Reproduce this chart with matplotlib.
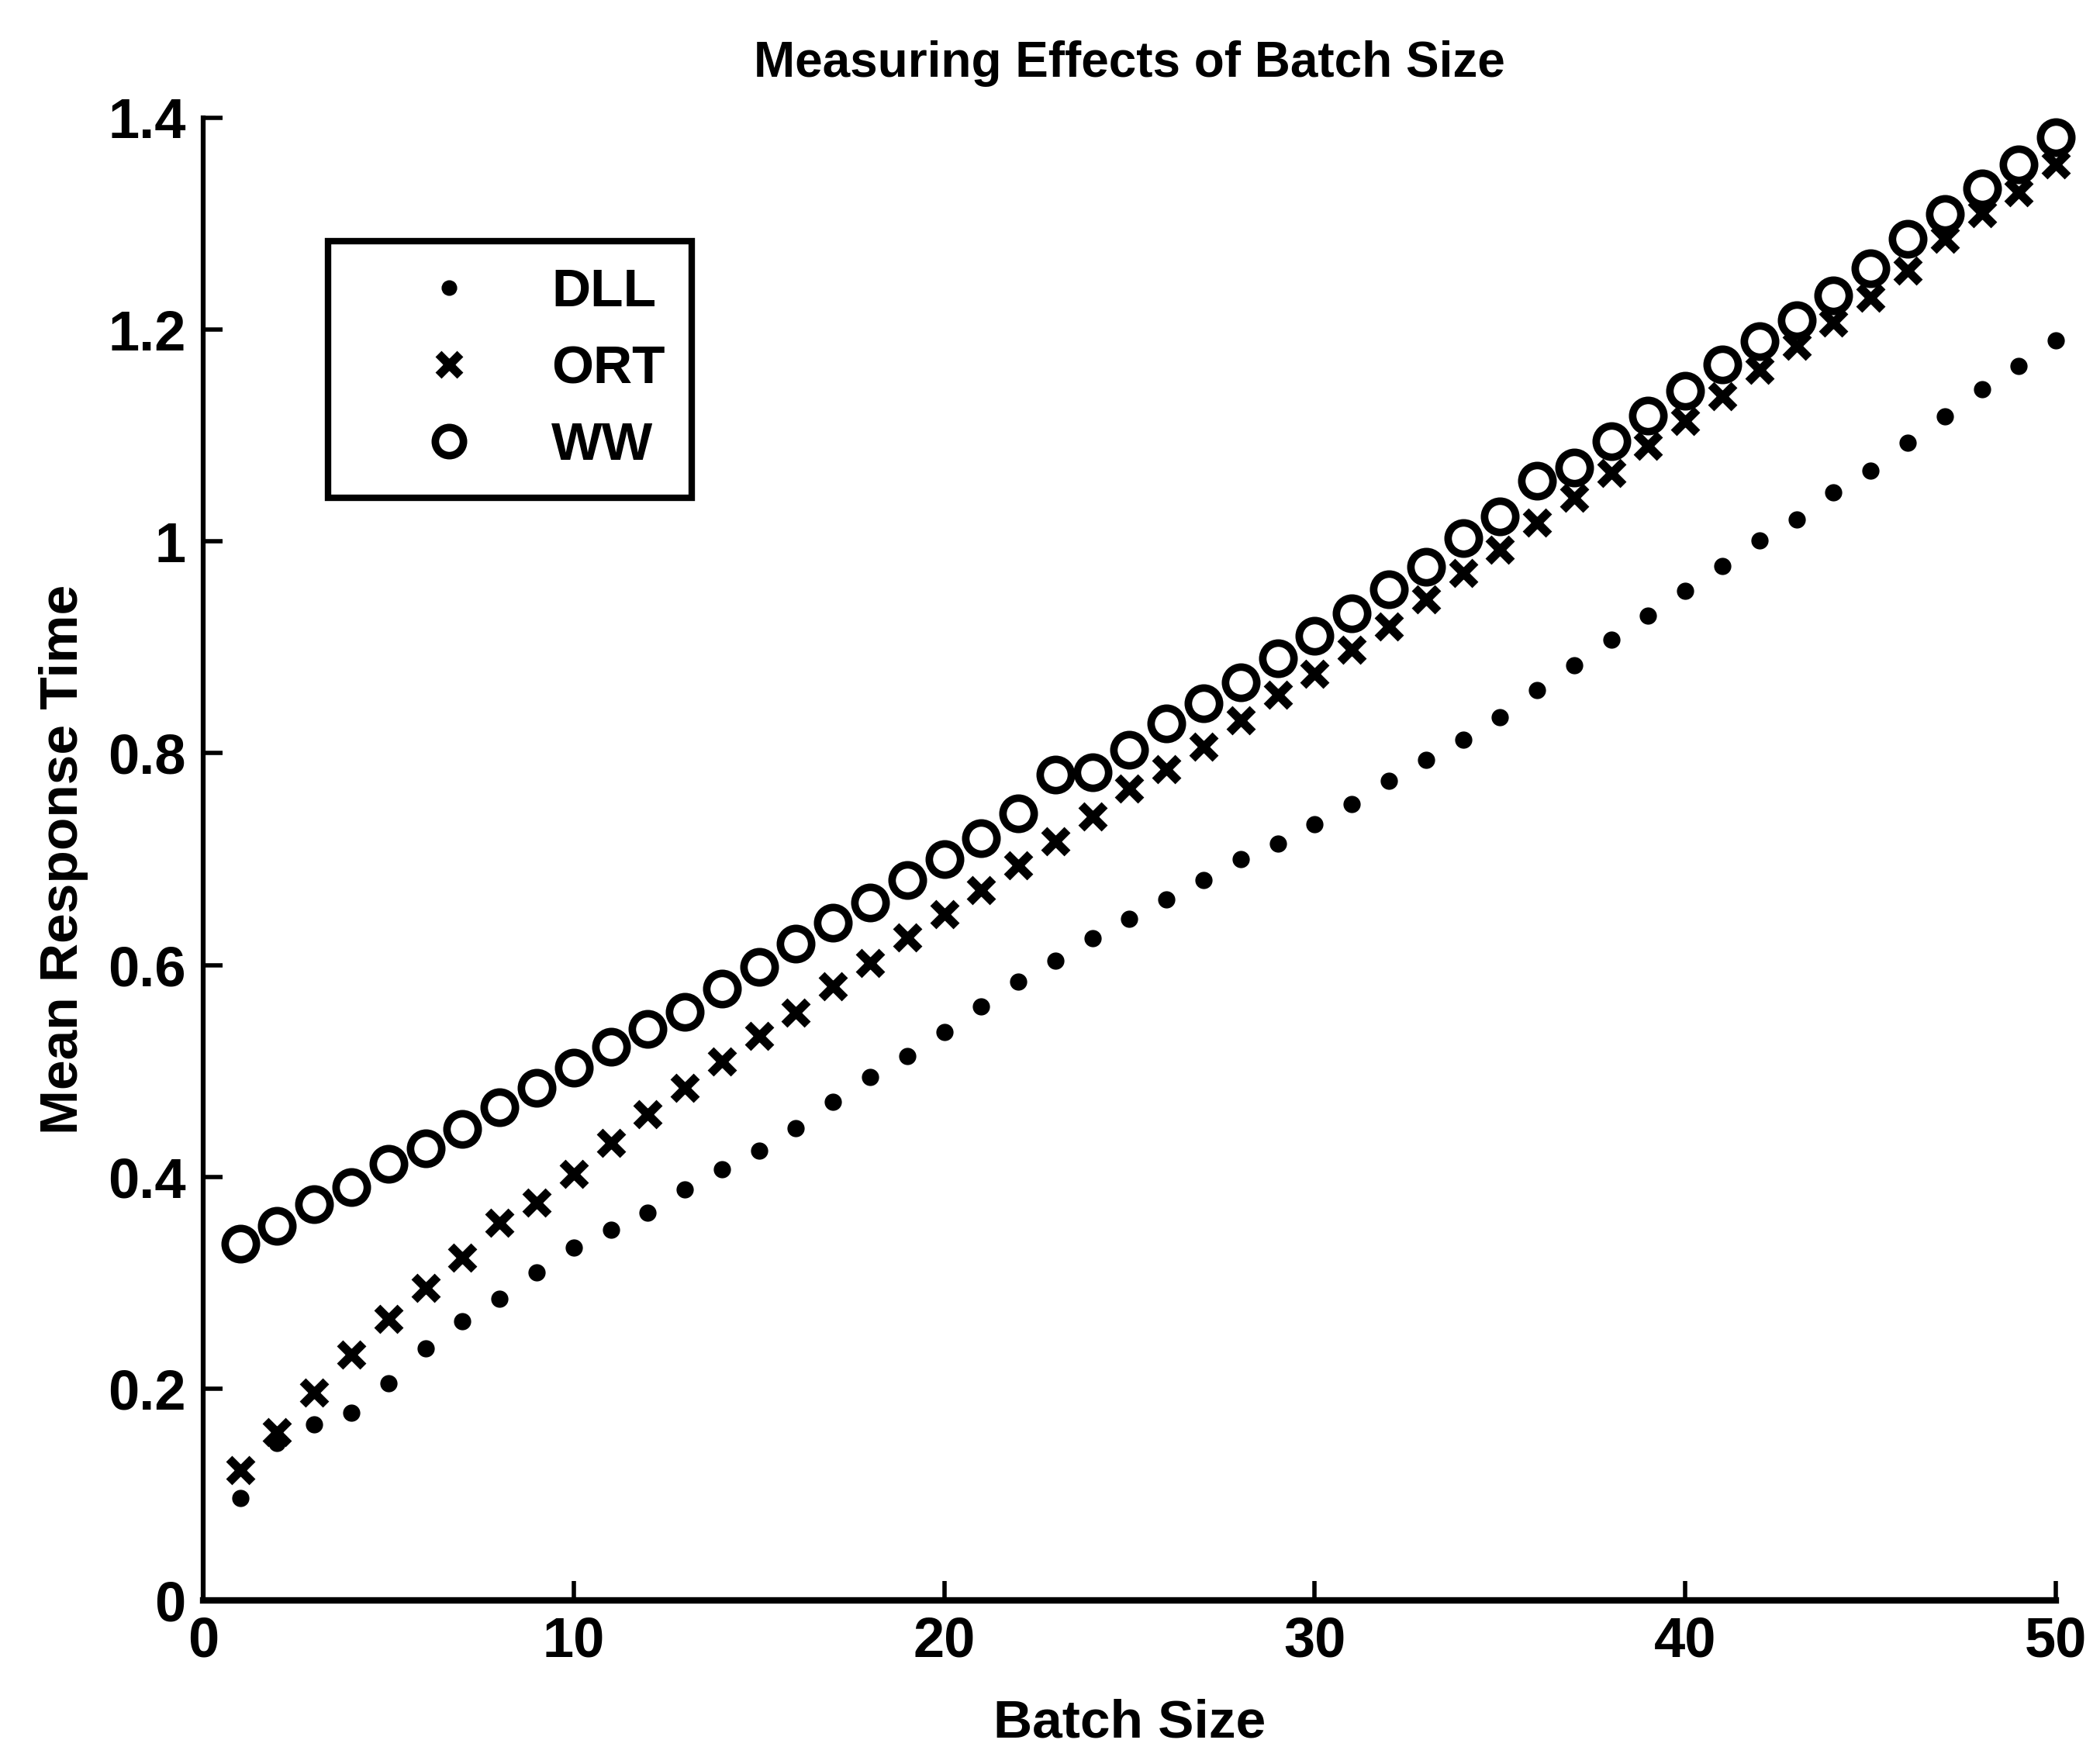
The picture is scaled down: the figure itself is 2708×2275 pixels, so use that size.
import matplotlib
matplotlib.use("Agg")
import matplotlib.pyplot as plt

batch = list(range(1, 51))

dll = [0.097, 0.149, 0.166, 0.177, 0.205, 0.238, 0.264, 0.285, 0.310, 0.333,
       0.350, 0.366, 0.388, 0.407, 0.425, 0.446, 0.471, 0.494, 0.514, 0.537,
       0.561, 0.584, 0.604, 0.625, 0.644, 0.662, 0.680, 0.700, 0.715, 0.733,
       0.752, 0.774, 0.794, 0.813, 0.834, 0.860, 0.883, 0.907, 0.930, 0.953,
       0.977, 1.001, 1.021, 1.046, 1.067, 1.093, 1.118, 1.144, 1.166, 1.190]

ort = [0.123, 0.159, 0.196, 0.232, 0.266, 0.295, 0.324, 0.357, 0.376, 0.403,
       0.432, 0.459, 0.484, 0.509, 0.533, 0.555, 0.580, 0.602, 0.626, 0.648,
       0.671, 0.694, 0.717, 0.740, 0.767, 0.785, 0.806, 0.831, 0.855, 0.875,
       0.898, 0.920, 0.945, 0.970, 0.992, 1.018, 1.041, 1.065, 1.090, 1.114,
       1.137, 1.162, 1.185, 1.207, 1.230, 1.256, 1.286, 1.310, 1.330, 1.356]

ww = [0.337, 0.354, 0.374, 0.390, 0.412, 0.427, 0.445, 0.466, 0.484, 0.503,
      0.523, 0.540, 0.556, 0.578, 0.598, 0.620, 0.640, 0.659, 0.680, 0.700,
      0.720, 0.743, 0.780, 0.782, 0.803, 0.828, 0.847, 0.867, 0.890, 0.911,
      0.932, 0.955, 0.976, 1.003, 1.024, 1.057, 1.070, 1.095, 1.119, 1.142,
      1.167, 1.189, 1.209, 1.232, 1.258, 1.286, 1.309, 1.333, 1.356, 1.382]

xticks = [0, 10, 20, 30, 40, 50]
yticks = [0, 0.2, 0.4, 0.6, 0.8, 1.0, 1.2, 1.4]
yticklabels = ["0", "0.2", "0.4", "0.6", "0.8", "1", "1.2", "1.4"]

plt.rcParams['font.family'] = ['Liberation Sans', 'DejaVu Sans']
plt.rcParams['font.weight'] = 'bold'

fig = plt.figure(figsize=(27.08, 22.75), dpi=100)
ax = fig.add_axes([0.0967, 0.0927, 0.8823, 0.8405])

ax.plot(batch, dll, linestyle='none', marker='o', ms=15, color='black',
        label='DLL', clip_on=False)
ax.plot(batch, ort, linestyle='none', marker='x', ms=22, mew=8, color='black',
        label='ORT', clip_on=False)
ax.plot(batch, ww, linestyle='none', marker='o', ms=29, mew=7,
        markerfacecolor='none', markeredgecolor='black', label='WW', clip_on=False)

ax.set_xlim(0, 50)
ax.set_ylim(0, 1.4)
ax.set_xticks(xticks)
ax.set_xticklabels([str(t) for t in xticks])
ax.set_yticks(yticks)
ax.set_yticklabels(yticklabels)

for s in ['top', 'right']:
    ax.spines[s].set_visible(False)
ax.spines['left'].set_linewidth(4.5)
ax.spines['bottom'].set_linewidth(6)

ax.tick_params(direction='in', length=18, width=4, labelsize=52, pad=14)
ax.tick_params(axis='y', pad=16)
for lab in ax.get_xticklabels() + ax.get_yticklabels():
    lab.set_fontweight('bold')

ax.set_title('Measuring Effects of Batch Size', fontsize=46, fontweight='bold', pad=38)
ax.set_xlabel('Batch Size', fontsize=50, fontweight='bold', labelpad=28)
ax.set_ylabel('Mean Response Time', fontsize=50, fontweight='bold', labelpad=18)

leg = ax.legend(loc='upper left', bbox_to_anchor=(0.0674, 0.917), borderaxespad=0,
                fontsize=50, frameon=True, fancybox=False, edgecolor='black',
                framealpha=1, handletextpad=0.15, borderpad=0.5, labelspacing=0.5,
                handlelength=3.5, markerfirst=True, markerscale=0.9)
leg.get_frame().set_linewidth(6)
for t in leg.get_texts():
    t.set_fontweight('bold')

fig.savefig('out.png', dpi=100, facecolor='white')
